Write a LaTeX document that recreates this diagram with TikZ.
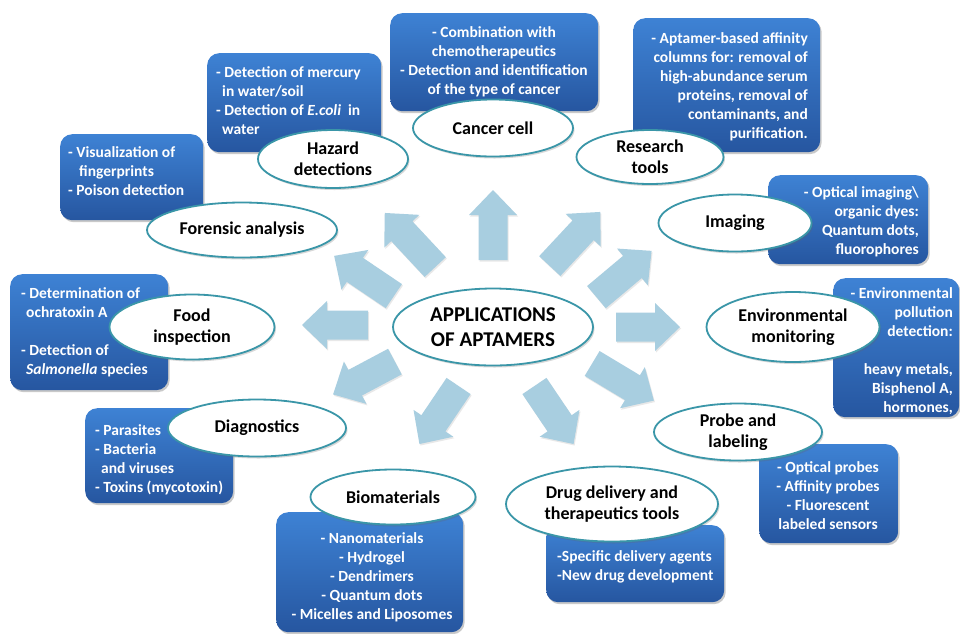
\documentclass[tikz,border=0pt]{standalone}
\usepackage{fontspec}
\setmainfont{Carlito}
\usetikzlibrary{shapes.geometric,shadows}
\definecolor{boxtop}{RGB}{62,130,212}
\definecolor{boxbot}{RGB}{38,86,160}
\definecolor{ellline}{RGB}{58,150,168}
\definecolor{arrowfill}{RGB}{168,206,224}
\tikzset{
  bluebox/.style={rounded corners=12pt, top color=boxtop, bottom color=boxbot, draw=none,
    anchor=north west, inner sep=0pt,
    drop shadow={shadow xshift=1.5pt, shadow yshift=-2pt, opacity=0.35, fill=black!60}},
  boxtext/.style={text=white, font=\fontsize{15.5}{19}\selectfont\bfseries, inner sep=0pt,
    execute at begin node=\strut},
  oval/.style={ellipse, draw=ellline, line width=1.8pt, fill=white, inner sep=0pt,
    font=\fontsize{18}{21}\selectfont\bfseries, align=center,
    drop shadow={shadow xshift=1.5pt, shadow yshift=-2pt, opacity=0.25, fill=black!60}},
  bigarrow/.style={fill=arrowfill, draw=none,
    drop shadow={shadow xshift=1pt, shadow yshift=-1.5pt, opacity=0.15, fill=black!60}}
}
\newcommand{\blockarrow}[4]{%
  \fill[bigarrow, shift={(#1,#2)}, rotate=#3]
    (-#4/2,-14.5) -- (#4/2-25,-14.5) -- (#4/2-25,-24) -- (#4/2,0)
    -- (#4/2-25,24) -- (#4/2-25,14.5) -- (-#4/2,14.5) -- cycle;}
\begin{document}
\begin{tikzpicture}[x=1pt,y=-1pt]
\useasboundingbox (0,0) rectangle (960,633);
\fill[white] (0,0) rectangle (960,633);

% block arrows
\blockarrow{493}{225}{90}{70}
\blockarrow{410}{240}{133}{74}
\blockarrow{364}{276}{146}{72}
\blockarrow{335}{325}{180}{66}
\blockarrow{364}{378}{208}{70}
\blockarrow{439}{415}{236}{70}
\blockarrow{554}{415}{304}{70}
\blockarrow{623}{382}{329}{72}
\blockarrow{648}{327}{0}{64}
\blockarrow{624}{274}{40}{72}
\blockarrow{575}{239}{47}{74}

% blue boxes
\node[bluebox, minimum width=208pt, minimum height=98pt] (cbox) at (390,13) {};
\node[bluebox, minimum width=174pt, minimum height=99pt] (hbox) at (207,53) {};
\node[bluebox, minimum width=143pt, minimum height=86pt] (fbox) at (60,134) {};
\node[bluebox, minimum width=158pt, minimum height=116pt] (foodbox) at (10,274) {};
\node[bluebox, minimum width=148pt, minimum height=95pt] (dbox) at (85,408) {};
\node[bluebox, minimum width=187pt, minimum height=120pt] (bbox) at (276,512) {};
\node[bluebox, minimum width=178pt, minimum height=77pt] (drbox) at (546,525) {};
\node[bluebox, minimum width=139pt, minimum height=99pt] (pbox) at (759,444) {};
\node[bluebox, minimum width=126pt, minimum height=139pt] (ebox) at (833,278) {};
\node[bluebox, minimum width=160pt, minimum height=89pt] (ibox) at (768,175) {};
\node[bluebox, minimum width=187pt, minimum height=134pt] (rbox) at (633,18) {};

% box texts
\node[boxtext, align=center, anchor=north] (ctext) at (494,26)
  {- Combination with\\chemotherapeutics\\- Detection and identification\\of the type of cancer};
\node[boxtext, align=left, anchor=north west] (htext) at (216,66)
  {- Detection of mercury\\\hspace*{6pt}in water/soil\\- Detection of \textit{E.coli}\ \ in\\\hspace*{6pt}water};
\node[boxtext, align=left, anchor=north west] (ftext) at (68,146)
  {- Visualization of\\\hspace*{11pt}fingerprints\\- Poison detection};
\node[boxtext, align=left, anchor=north west] (foodtext) at (21,287)
  {- Determination of\\\hspace*{5pt}ochratoxin A\\[19pt]- Detection of\\\hspace*{5pt}\textit{Salmonella} species};
\node[boxtext, align=left, anchor=north west] (dtext) at (95,424)
  {- Parasites\\- Bacteria\\\hspace*{6pt}and viruses\\- Toxins (mycotoxin)};
\node[boxtext, align=center, anchor=north] (btext) at (372,532)
  {- Nanomaterials\\- Hydrogel\\- Dendrimers\\- Quantum dots\\- Micelles and Liposomes};
\node[boxtext, align=left, anchor=north west] (drtext) at (557,550)
  {-Specific delivery agents\\-New drug development};
\node[boxtext, align=center, anchor=north] (ptext) at (828,461)
  {- Optical probes\\- Affinity probes\\- Fluorescent\\labeled sensors};
\node[boxtext, align=right, anchor=north east] (etext) at (953,287)
  {- Environmental\\pollution\\detection:\\[19pt]heavy metals,\\Bisphenol A,\\hormones,};
\node[boxtext, align=right, anchor=north east] (itext) at (919,186)
  {- Optical imaging\textbackslash\\organic dyes:\\Quantum dots,\\fluorophores};
\node[boxtext, align=right, anchor=north east] (rtext) at (808,32)
  {- Aptamer-based affinity\\columns for: removal of\\high-abundance serum\\proteins, removal of\\contaminants, and\\purification.};

% ellipses
\node[oval, minimum width=160pt, minimum height=57pt] (cancer) at (493,128) {Cancer cell};
\node[oval, minimum width=150pt, minimum height=58pt] (hazard) at (333,159) {Hazard\\detections};
\node[oval, minimum width=190pt, minimum height=55pt] (forensic) at (242,230) {Forensic analysis};
\node[oval, minimum width=165pt, minimum height=65pt] (food) at (192,327) {Food\\inspection};
\node[oval, minimum width=178pt, minimum height=57pt] (diag) at (257,428) {Diagnostics};
\node[oval, minimum width=165pt, minimum height=55pt] (bio) at (393,497) {Biomaterials};
\node[oval, minimum width=212pt, minimum height=75pt] (drug) at (612,504) {Drug delivery and\\therapeutics tools};
\node[oval, minimum width=168pt, minimum height=57pt] (probe) at (738,432) {Probe and\\labeling};
\node[oval, minimum width=173pt, minimum height=70pt] (env) at (793,327) {Environmental\\monitoring};
\node[oval, minimum width=153pt, minimum height=57pt] (imaging) at (735,223) {Imaging};
\node[oval, minimum width=147pt, minimum height=54pt] (research) at (650,157) {Research\\tools};
\node[oval, minimum width=200pt, minimum height=77pt, font=\fontsize{21}{25}\selectfont\bfseries] (center) at (493,327) {APPLICATIONS\\OF APTAMERS};
\end{tikzpicture}
\end{document}
